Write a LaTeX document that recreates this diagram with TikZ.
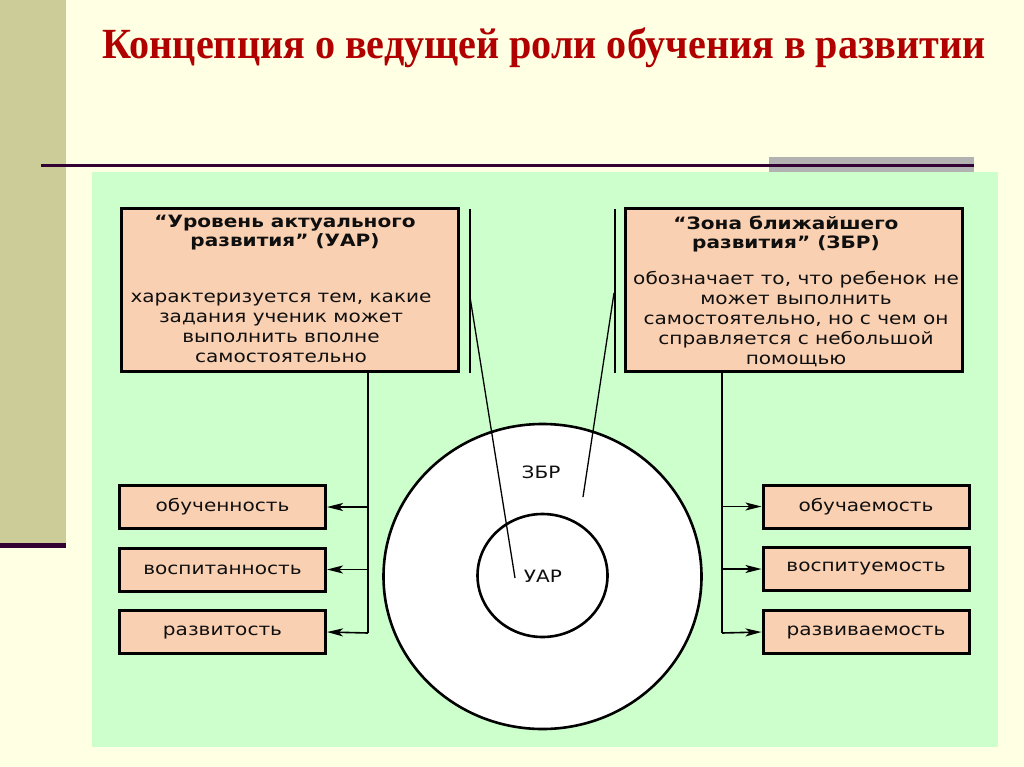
\documentclass[tikz,border=0pt]{standalone}
\usepackage{fontspec}
\setmainfont{Liberation Serif}
\newfontfamily\boxfont[FakeStretch=1.18]{DejaVu Sans}
\usetikzlibrary{arrows.meta}
\definecolor{cream}{RGB}{255,255,228}
\definecolor{olivebar}{RGB}{204,204,153}
\definecolor{darkline}{RGB}{51,0,51}
\definecolor{graybar}{RGB}{178,178,178}
\definecolor{panel}{RGB}{204,255,204}
\definecolor{peach}{RGB}{250,208,178}
\definecolor{titlered}{RGB}{176,0,0}
\definecolor{ink}{RGB}{15,15,15}
\tikzset{
  bigbox/.style={draw=black, line width=3pt, fill=peach, minimum width=337pt, minimum height=163pt, inner sep=0pt},
  smallbox/.style={draw=black, line width=3pt, fill=peach, minimum width=206pt, minimum height=43pt, inner sep=0pt, font=\boxfont\fontsize{17}{20}\selectfont, text=ink},
  headtxt/.style={font=\boxfont\bfseries\fontsize{17}{19}\selectfont, align=center, inner sep=0pt, text=ink},
  bodytxt/.style={font=\boxfont\fontsize{17}{20}\selectfont, align=center, inner sep=0pt, text=ink},
  conn/.style={draw=black, line width=1.6pt},
  arr/.style={conn, -{Stealth[length=16pt, width=8pt, inset=4pt]}},
  leader/.style={draw=black, line width=1.3pt},
  ring/.style={draw=black, line width=2.6pt, fill=white},
}
\begin{document}
\begin{tikzpicture}[x=1pt, y=-1pt]
\useasboundingbox (0,0) rectangle (1024,767);
\fill[cream] (0,0) rectangle (1024,767);
\fill[olivebar] (0,0) rectangle (66,543);
\fill[darkline] (0,543) rectangle (66,548);
\fill[graybar] (769,157) rectangle (974,172);
\draw[darkline, line width=2.5pt] (41,165.5) -- (974,165.5);
\fill[panel] (92,172) rectangle (998,747);

\node[font=\bfseries\fontsize{43}{46}\selectfont, text=titlered, anchor=base] (title) at (544,59) {\scalebox{0.934}[1]{Концепция о ведущей роли обучения в развитии}};

% big boxes
\node[bigbox] (uar) at (290,290) {};
\node[bigbox] (zbr) at (794,290) {};
\node[headtxt] (uarh) at (285,233) {“Уровень актуального\\развития” (УАР)};
\node[bodytxt] (uarb) at (281,328) {характеризуется тем, какие\\задания ученик может\\выполнить вполне\\самостоятельно};
\node[headtxt] (zbrh) at (786,234) {“Зона ближайшего\\развития” (ЗБР)};
\node[bodytxt] (zbrb) at (796,319) {обозначает то, что ребенок не\\может выполнить\\самостоятельно, но с чем он\\справляется с небольшой\\помощью};

% small boxes
\node[smallbox] (b1) at (222.5,507) {обученность};
\node[smallbox] (b2) at (222.5,569.5) {воспитанность};
\node[smallbox] (b3) at (222.5,632) {развитость};
\node[smallbox] (c1) at (866,506.5) {обучаемость};
\node[smallbox] (c2) at (866,569) {воспитуемость};
\node[smallbox] (c3) at (866,632) {развиваемость};

% connectors
\coordinate (jl) at (368,633);
\coordinate (jr) at (722,633);
\draw[conn] (uar.south -| jl) -- (jl);
\draw[conn] (zbr.south -| jr) -- (jr);
\draw[arr] (jl |- b1.east) -- (b1.east);
\draw[arr] (jl |- b2.east) -- (b2.east);
\draw[arr] (jl) -- (b3.east);
\draw[arr] (jr |- c1.west) -- (c1.west);
\draw[arr] (jr |- c2.west) -- (c2.west);
\draw[arr] (jr) -- (c3.west);

% rings
\coordinate (ctr) at (542.5,576.5);
\draw[ring] (ctr) ellipse [x radius=159, y radius=152.5];
\draw[ring] (542.5,575.5) ellipse [x radius=65, y radius=61.5];
\node[bodytxt] (zlab) at (541,472) {ЗБР};
\node[bodytxt] (ulab) at (543,576) {УАР};

% leader lines
\coordinate (lt) at (470,209);
\coordinate (lb) at (470,373);
\coordinate (ls) at (470,297);
\coordinate (le) at (515,578);
\coordinate (rt) at (615,209);
\coordinate (rb) at (615,373);
\coordinate (rs) at (614,293);
\coordinate (re) at (583,497);
\draw[leader] (lt) -- (lb);
\draw[leader] (ls) -- (le);
\draw[leader] (rt) -- (rb);
\draw[leader] (rs) -- (re);
\end{tikzpicture}
\end{document}
